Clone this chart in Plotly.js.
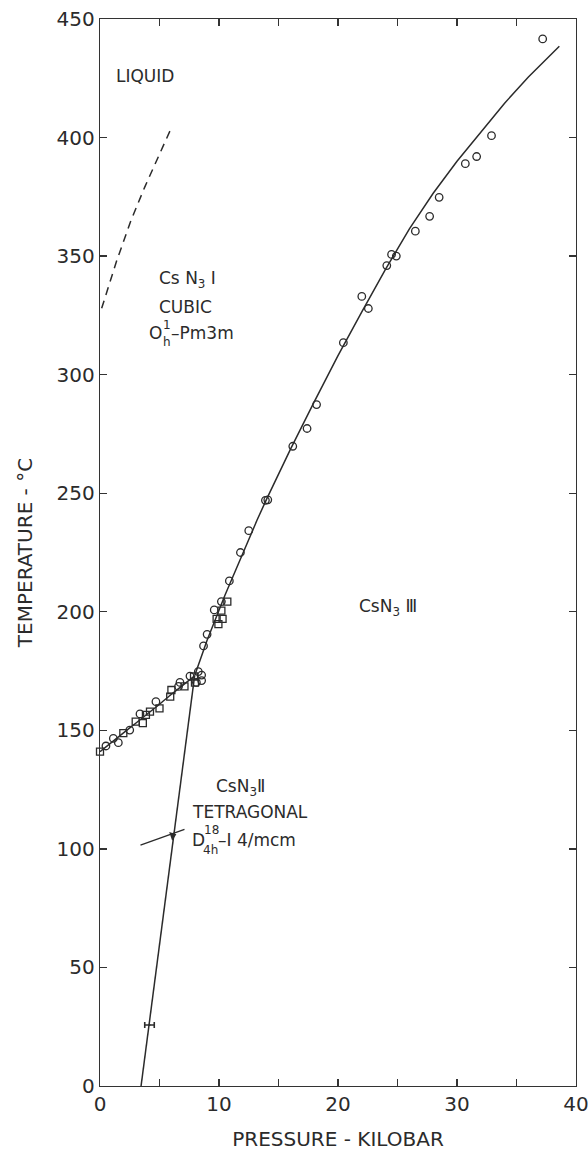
<!DOCTYPE html>
<html>
<head>
<meta charset="utf-8">
<script src="https://cdn.plot.ly/plotly-3.0.1.min.js"></script>
<style>
  html, body { margin: 0; padding: 0; background: #ffffff; }
  #chart { width: 588px; height: 1160px; }
</style>
</head>
<body>
<div id="chart"></div>
<script>
// ---- data ----
// open circles (pressure kbar, temperature °C)
const circleP = [0.5, 1.12, 1.54, 2.5, 3.36, 4.7, 6.6, 6.72, 7.56, 8.1, 8.26, 8.54, 8.54, 8.7, 9.0, 9.6, 10.2, 10.87, 11.8, 12.5, 13.9, 14.1, 16.2, 17.4, 18.2, 20.45, 22.0, 22.55, 24.1, 24.5, 24.9, 26.5, 27.7, 28.5, 30.7, 31.65, 32.9, 37.2];
const circleT = [143.4, 146.6, 144.8, 150.1, 156.9, 162.1, 168.5, 170.2, 172.9, 170.2, 174.8, 173.3, 171, 185.6, 190.5, 200.8, 204.3, 213, 225, 234.2, 247, 247.2, 269.8, 277.3, 287.4, 313.5, 333, 327.9, 346, 350.7, 350, 360.5, 366.8, 374.8, 389, 392, 400.8, 441.6];
// open squares
const squareP = [0, 1.96, 3.0, 3.6, 3.86, 4.2, 5.0, 5.9, 6.0, 7.1, 7.9, 7.98, 9.8, 9.95, 10.2, 10.3, 10.7];
const squareT = [141, 148.8, 153.7, 153, 156.5, 157.9, 159.3, 164.2, 167, 168.5, 172.7, 170.1, 197, 194.8, 200.5, 197, 204.3];
// I / II boundary
const b12P = [0, 1, 2, 3, 4, 5, 6, 7, 7.95];
const b12T = [141, 145, 149, 153, 157, 161, 165.2, 169.2, 173];
// II / III boundary
const b23P = [3.45, 7.95];
const b23T = [0, 173];
// I / III boundary
const b13P = [7.95, 9.0, 10.5, 12.0, 13.2, 14.0, 16.0, 18.0, 20.0, 22.0, 24.0, 26.0, 28.0, 30.0, 32.0, 34.0, 36.0, 38.6];
const b13T = [173, 188, 207, 225, 238.7, 247.5, 268.5, 288.5, 308, 326.5, 344.5, 361.5, 376.5, 390, 402.5, 414.5, 425.5, 438.5];
// melting curve (dashed)
const meltP = [0.14, 1.4, 2.6, 3.75, 5.0, 6.08];
const meltT = [328, 348, 365, 379, 393, 405];
// error bar point
const errP = [4.16];
const errT = [25.7];
const errDP = [0.4];
// arrow pointing to II/III boundary
const arrowP = [3.4, 7.1];
const arrowT = [101.6, 108.2];
const arrowHeadP = [6.1];
const arrowHeadT = [105.6];
// ticks
const xTickVals = [0, 10, 20, 30, 40];
const xTickText = ['0', '10', '20', '30', '40'];
const yTickVals = [0, 50, 100, 150, 200, 250, 300, 350, 400, 450];
const yTickText = ['0', '50', '100', '150', '200', '250', '300', '350', '400', '450'];

const ink = '#2b2b2b';
const FONT = 'DejaVu Sans, sans-serif';

const traces = [
  { x: b12P, y: b12T, mode: 'lines', line: { color: ink, width: 1.5, shape: 'spline', smoothing: 0.6 }, hoverinfo: 'skip' },
  { x: b23P, y: b23T, mode: 'lines', line: { color: ink, width: 1.5 }, hoverinfo: 'skip' },
  { x: b13P, y: b13T, mode: 'lines', line: { color: ink, width: 1.5 }, hoverinfo: 'skip' },
  { x: meltP, y: meltT, mode: 'lines', line: { color: ink, width: 1.5, dash: '8px,6px' }, hoverinfo: 'skip' },
  { x: arrowP, y: arrowT, mode: 'lines', line: { color: ink, width: 1.3 }, hoverinfo: 'skip' },
  { x: arrowHeadP, y: arrowHeadT, mode: 'markers', marker: { symbol: 'triangle-right', size: 8, angle: -19, color: ink }, hoverinfo: 'skip' },
  { x: errP, y: errT, mode: 'markers', marker: { size: 2, color: ink },
    error_x: { type: 'data', array: errDP, visible: true, color: ink, thickness: 1.6, width: 3 }, hoverinfo: 'skip' },
  { x: squareP, y: squareT, mode: 'markers', marker: { symbol: 'square-open', size: 7, color: ink, line: { width: 1.3, color: ink } }, cliponaxis: false },
  { x: circleP, y: circleT, mode: 'markers', marker: { symbol: 'circle-open', size: 7.5, color: ink, line: { width: 1.3, color: ink } }, cliponaxis: false }
];

// pixel helpers for placing labels (plot area: x 100..576, y 19..1086)
function pxP(px) { return (px - 100) / 11.9; }
function pxT(py) { return (1086 - py) / 2.371; }

const lab = { family: FONT, size: 17, color: ink };
const small = { family: FONT, size: 12, color: ink };

function ann(text, px, py, font, xanchor) {
  return { x: pxP(px), y: pxT(py), xref: 'x', yref: 'y', text: text, showarrow: false,
           font: font || lab, xanchor: xanchor || 'center', yanchor: 'middle' };
}

const annotations = [
  ann('LIQUID', 145, 76),
  ann('Cs N<sub>3</sub> Ⅰ', 187, 280),
  ann('CUBIC', 185, 307),
  ann('O', 147, 333, lab, 'left'),
  ann('1', 161, 325, small, 'left'),
  ann('h', 161, 342, small, 'left'),
  ann('–Pm3m', 169, 333, lab, 'left'),
  ann('CsN<sub>3</sub> Ⅲ', 388, 608),
  ann('CsN<sub>3</sub>Ⅱ', 240, 788),
  ann('TETRAGONAL', 250, 812),
  ann('D', 190, 840, lab, 'left'),
  ann('18', 202, 830, small, 'left'),
  ann('4h', 201, 850, small, 'left'),
  ann('–I 4/mcm', 216, 840, lab, 'left')
];

const axisCommon = {
  showgrid: false, zeroline: false, showline: true, linecolor: '#333', linewidth: 1.3,
  mirror: 'ticks', ticks: 'inside', ticklen: 7, tickwidth: 1.3, tickcolor: '#333',
  tickfont: { family: FONT, size: 20, color: ink }, fixedrange: true,
  ticklabeloverflow: 'allow'
};

const layout = {
  width: 588, height: 1160,
  margin: { l: 100, r: 12, t: 19, b: 74 },
  paper_bgcolor: '#ffffff', plot_bgcolor: '#ffffff',
  showlegend: false,
  xaxis: Object.assign({}, axisCommon, {
    range: [0, 40], tickmode: 'array', tickvals: xTickVals, ticktext: xTickText,
    minor: { dtick: 5, tick0: 0, ticks: 'inside', ticklen: 7, tickwidth: 1.3, tickcolor: '#333', showgrid: false },
    title: { text: 'PRESSURE - KILOBAR', font: { family: FONT, size: 20, color: ink }, standoff: 16 }
  }),
  yaxis: Object.assign({}, axisCommon, {
    range: [0, 450], tickmode: 'array', tickvals: yTickVals, ticktext: yTickText,
    title: { text: 'TEMPERATURE - °C', font: { family: FONT, size: 20, color: ink }, standoff: 18 }
  }),
  annotations: annotations
};

Plotly.newPlot('chart', traces, layout, { displayModeBar: false, staticPlot: true });
</script>
</body>
</html>
